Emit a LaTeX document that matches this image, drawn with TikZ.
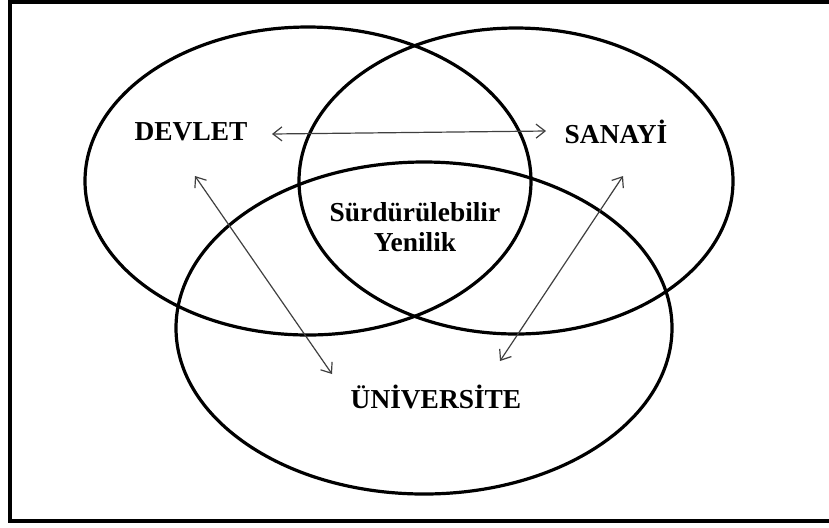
\documentclass[tikz,border=0pt]{standalone}
\usepackage{fontspec}
\setmainfont{Liberation Serif}
\usepackage{tikz}
\usetikzlibrary{arrows.meta}

\begin{document}
\begin{tikzpicture}[x=0.5pt, y=-0.5pt,
    circ/.style={line width=1.6pt},
    lbl/.style={font=\fontsize{13.7}{15}\selectfont\bfseries, align=center, inner sep=0pt},
    link/.style={draw=black!75, line width=0.6pt, {Straight Barb[length=4.5pt,width=7pt]}-{Straight Barb[length=4.5pt,width=7pt]}}]
    \useasboundingbox (0,0) rectangle (829,527);
    % frame
    \draw[line width=2pt] (840,2) -- (9.5,2) -- (9.5,521) -- (840,521);
    % circles
    \draw[circ] (308,181) ellipse (223 and 154);
    \draw[circ] (516,181) ellipse (217 and 153);
    \draw[circ] (424,328) ellipse (248 and 166);
    % labels
    \node[lbl] (devlet) at (191,132) {DEVLET};
    \node[lbl] (sanayi) at (616,132) {SANAYİ};
    \node[lbl] (yenilik) at (415,227) {Sürdürülebilir\\Yenilik};
    \node[lbl] (univ) at (436,397) {ÜNİVERSİTE};
    % arrow ends
    \coordinate (dv-r) at (272,134);
    \coordinate (sn-l) at (546,131);
    \coordinate (dv-d) at (195,176);
    \coordinate (un-l) at (332,374);
    \coordinate (sn-d) at (623,176);
    \coordinate (un-r) at (500,361);
    \draw[link] (dv-r) -- (sn-l);
    \draw[link] (dv-d) -- (un-l);
    \draw[link] (sn-d) -- (un-r);
\end{tikzpicture}
\end{document}
